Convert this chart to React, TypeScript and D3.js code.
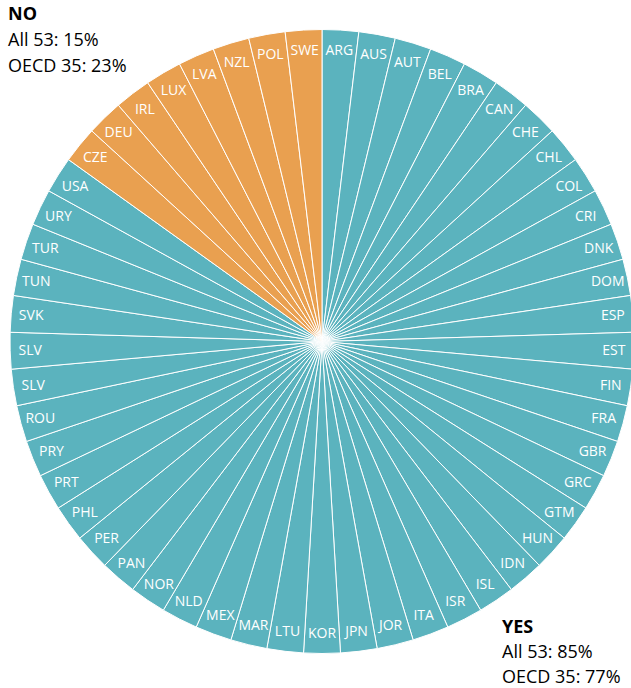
import React from "react";
import * as d3 from "d3";

const yesCountries = ["ARG","AUS","AUT","BEL","BRA","CAN","CHE","CHL","COL","CRI","DNK","DOM","ESP","EST","FIN","FRA","GBR","GRC","GTM","HUN","IDN","ISL","ISR","ITA","JOR","JPN","KOR","LTU","MAR","MEX","NLD","NOR","PAN","PER","PHL","PRT","PRY","ROU","SLV","SLV","SVK","TUN","TUR","URY","USA"];
const noCountries = ["CZE","DEU","IRL","LUX","LVA","NZL","POL","SWE"];
const noLines = ["NO", "All 53: 15%", "OECD 35: 23%"];
const yesLines = ["YES", "All 53: 85%", "OECD 35: 77%"];

const COLORS: Record<string, string> = { yes: "#5bb3be", no: "#e9a050" };

export default function App() {
  const W = 631, H = 688;
  const cx = 322, cy = 341.5, R = 312, labelR = 292;
  const data = [
    ...yesCountries.map((c) => ({ c, g: "yes" })),
    ...noCountries.map((c) => ({ c, g: "no" })),
  ];
  const pie = d3.pie<{ c: string; g: string }>().value(() => 1).sort(null);
  const arcs = pie(data);
  const arc = d3.arc<d3.PieArcDatum<{ c: string; g: string }>>().innerRadius(0).outerRadius(R);
  const labelArc = d3.arc<d3.PieArcDatum<{ c: string; g: string }>>().innerRadius(labelR).outerRadius(labelR);
  const font = "'Open Sans', sans-serif";
  return (
    <svg width={W} height={H} style={{ position: "absolute", left: 0, top: 0 }}>
      <g transform={`translate(${cx},${cy})`}>
        {arcs.map((a, i) => (
          <path key={i} d={arc(a) || ""} fill={COLORS[a.data.g]} stroke="#fff" strokeWidth={1} />
        ))}
        {arcs.map((a, i) => {
          const [x, y] = labelArc.centroid(a);
          return (
            <text key={"t" + i} x={x} y={y} dy="0.35em" textAnchor="middle" fill="#fff" fontSize={14} fontFamily={font}>
              {a.data.c}
            </text>
          );
        })}
      </g>
      <g fontFamily={font} fontSize={18} fill="#000">
        {noLines.map((t, i) => (
          <text key={"n" + i} x={8} y={20 + i * 26} fontWeight={i === 0 ? 700 : 400}>{t}</text>
        ))}
        {yesLines.map((t, i) => (
          <text key={"y" + i} x={502} y={633 + i * 25} fontWeight={i === 0 ? 700 : 400}>{t}</text>
        ))}
      </g>
    </svg>
  );
}
